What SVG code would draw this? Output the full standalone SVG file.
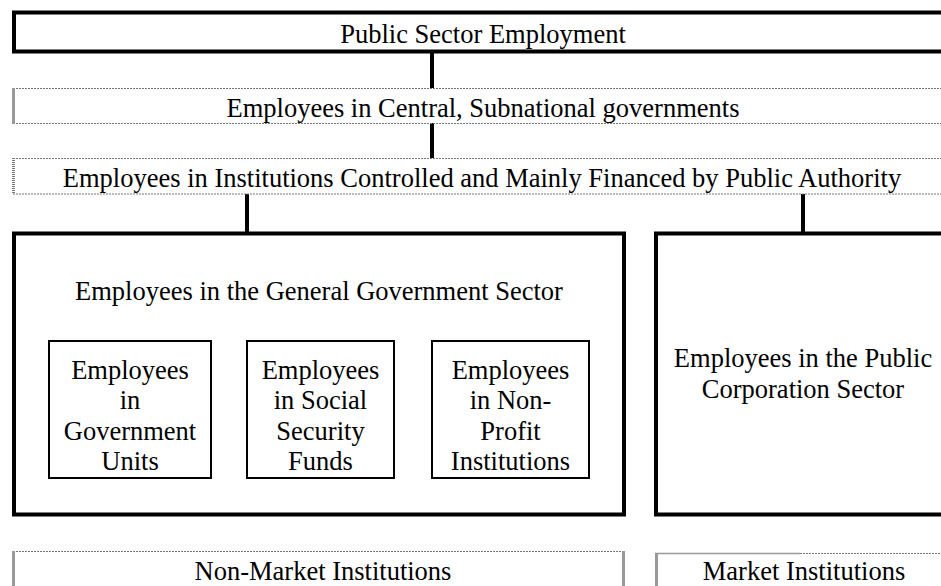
<svg xmlns="http://www.w3.org/2000/svg" width="941" height="586" viewBox="0 0 941 586">
<style>
text{font-family:"Liberation Serif","Times New Roman",serif;font-size:26.5px;fill:#000;text-anchor:middle}
.thick{fill:none;stroke:#000;stroke-width:4}
.inner{fill:none;stroke:#000;stroke-width:2}
.dot{stroke:#777;stroke-width:1;stroke-dasharray:2 1;fill:none}
.gside{stroke:#999;stroke-width:3;fill:none}
.dside{stroke:#777;stroke-width:3;stroke-dasharray:1 1;fill:none}
.conn{stroke:#000;stroke-width:4;fill:none}
</style>
<rect width="941" height="586" fill="#fff"/>
<g id="connectors">
<line class="conn" x1="432" y1="52" x2="432" y2="88"/>
<line class="conn" x1="432" y1="123" x2="432" y2="158"/>
<line class="conn" x1="247" y1="194" x2="247" y2="233"/>
<line class="conn" x1="803" y1="194" x2="803" y2="233"/>
</g>
<g id="public-sector">
<rect class="thick" x="14" y="12.5" width="950" height="39"/>
<text x="483" y="43">Public Sector Employment</text>
</g>
<g id="central-subnational">
<line class="dot" x1="13" y1="88.5" x2="941" y2="88.5"/>
<line class="dot" x1="13" y1="123.5" x2="941" y2="123.5"/>
<line class="gside" x1="13.5" y1="88" x2="13.5" y2="124"/>
<text x="483" y="117">Employees in Central, Subnational governments</text>
</g>
<g id="institutions">
<line class="dot" x1="13" y1="158.5" x2="941" y2="158.5"/>
<line class="dot" x1="13" y1="194" x2="941" y2="194"/>
<line class="dside" x1="13.5" y1="158" x2="13.5" y2="194"/>
<text x="482" y="187">Employees in Institutions Controlled and Mainly Financed by Public Authority</text>
</g>
<g id="general-government">
<rect class="thick" x="14" y="233.5" width="610" height="281"/>
<text x="319" y="300">Employees in the General Government Sector</text>
</g>
<g id="government-units">
<rect class="inner" x="49" y="341" width="162" height="137"/>
<text x="130" y="378.5">Employees</text>
<text x="130" y="409">in</text>
<text x="130" y="439.5">Government</text>
<text x="130" y="470">Units</text>
</g>
<g id="social-security">
<rect class="inner" x="247" y="341" width="147" height="137"/>
<text x="320.5" y="378.5">Employees</text>
<text x="320.5" y="409">in Social</text>
<text x="320.5" y="439.5">Security</text>
<text x="320.5" y="470">Funds</text>
</g>
<g id="non-profit">
<rect class="inner" x="432" y="341" width="157" height="137"/>
<text x="510.5" y="378.5">Employees</text>
<text x="510.5" y="409">in Non-</text>
<text x="510.5" y="439.5">Profit</text>
<text x="510.5" y="470">Institutions</text>
</g>
<g id="public-corporation">
<rect class="thick" x="656" y="233.5" width="300" height="281"/>
<text x="803" y="366.5">Employees in the Public</text>
<text x="803" y="397.5">Corporation Sector</text>
</g>
<g id="non-market">
<line class="dot" x1="13" y1="551.5" x2="624" y2="551.5"/>
<line class="gside" x1="13.5" y1="551" x2="13.5" y2="590"/>
<line class="gside" x1="623.5" y1="551" x2="623.5" y2="590"/>
<text x="323" y="580">Non-Market Institutions</text>
</g>
<g id="market">
<line x1="655" y1="553.5" x2="800" y2="553.5" stroke="#999" stroke-width="1.5"/>
<line class="dot" x1="800" y1="553.5" x2="941" y2="553.5"/>
<line class="gside" x1="656.5" y1="553" x2="656.5" y2="590"/>
<text x="804" y="580">Market Institutions</text>
</g>
</svg>
